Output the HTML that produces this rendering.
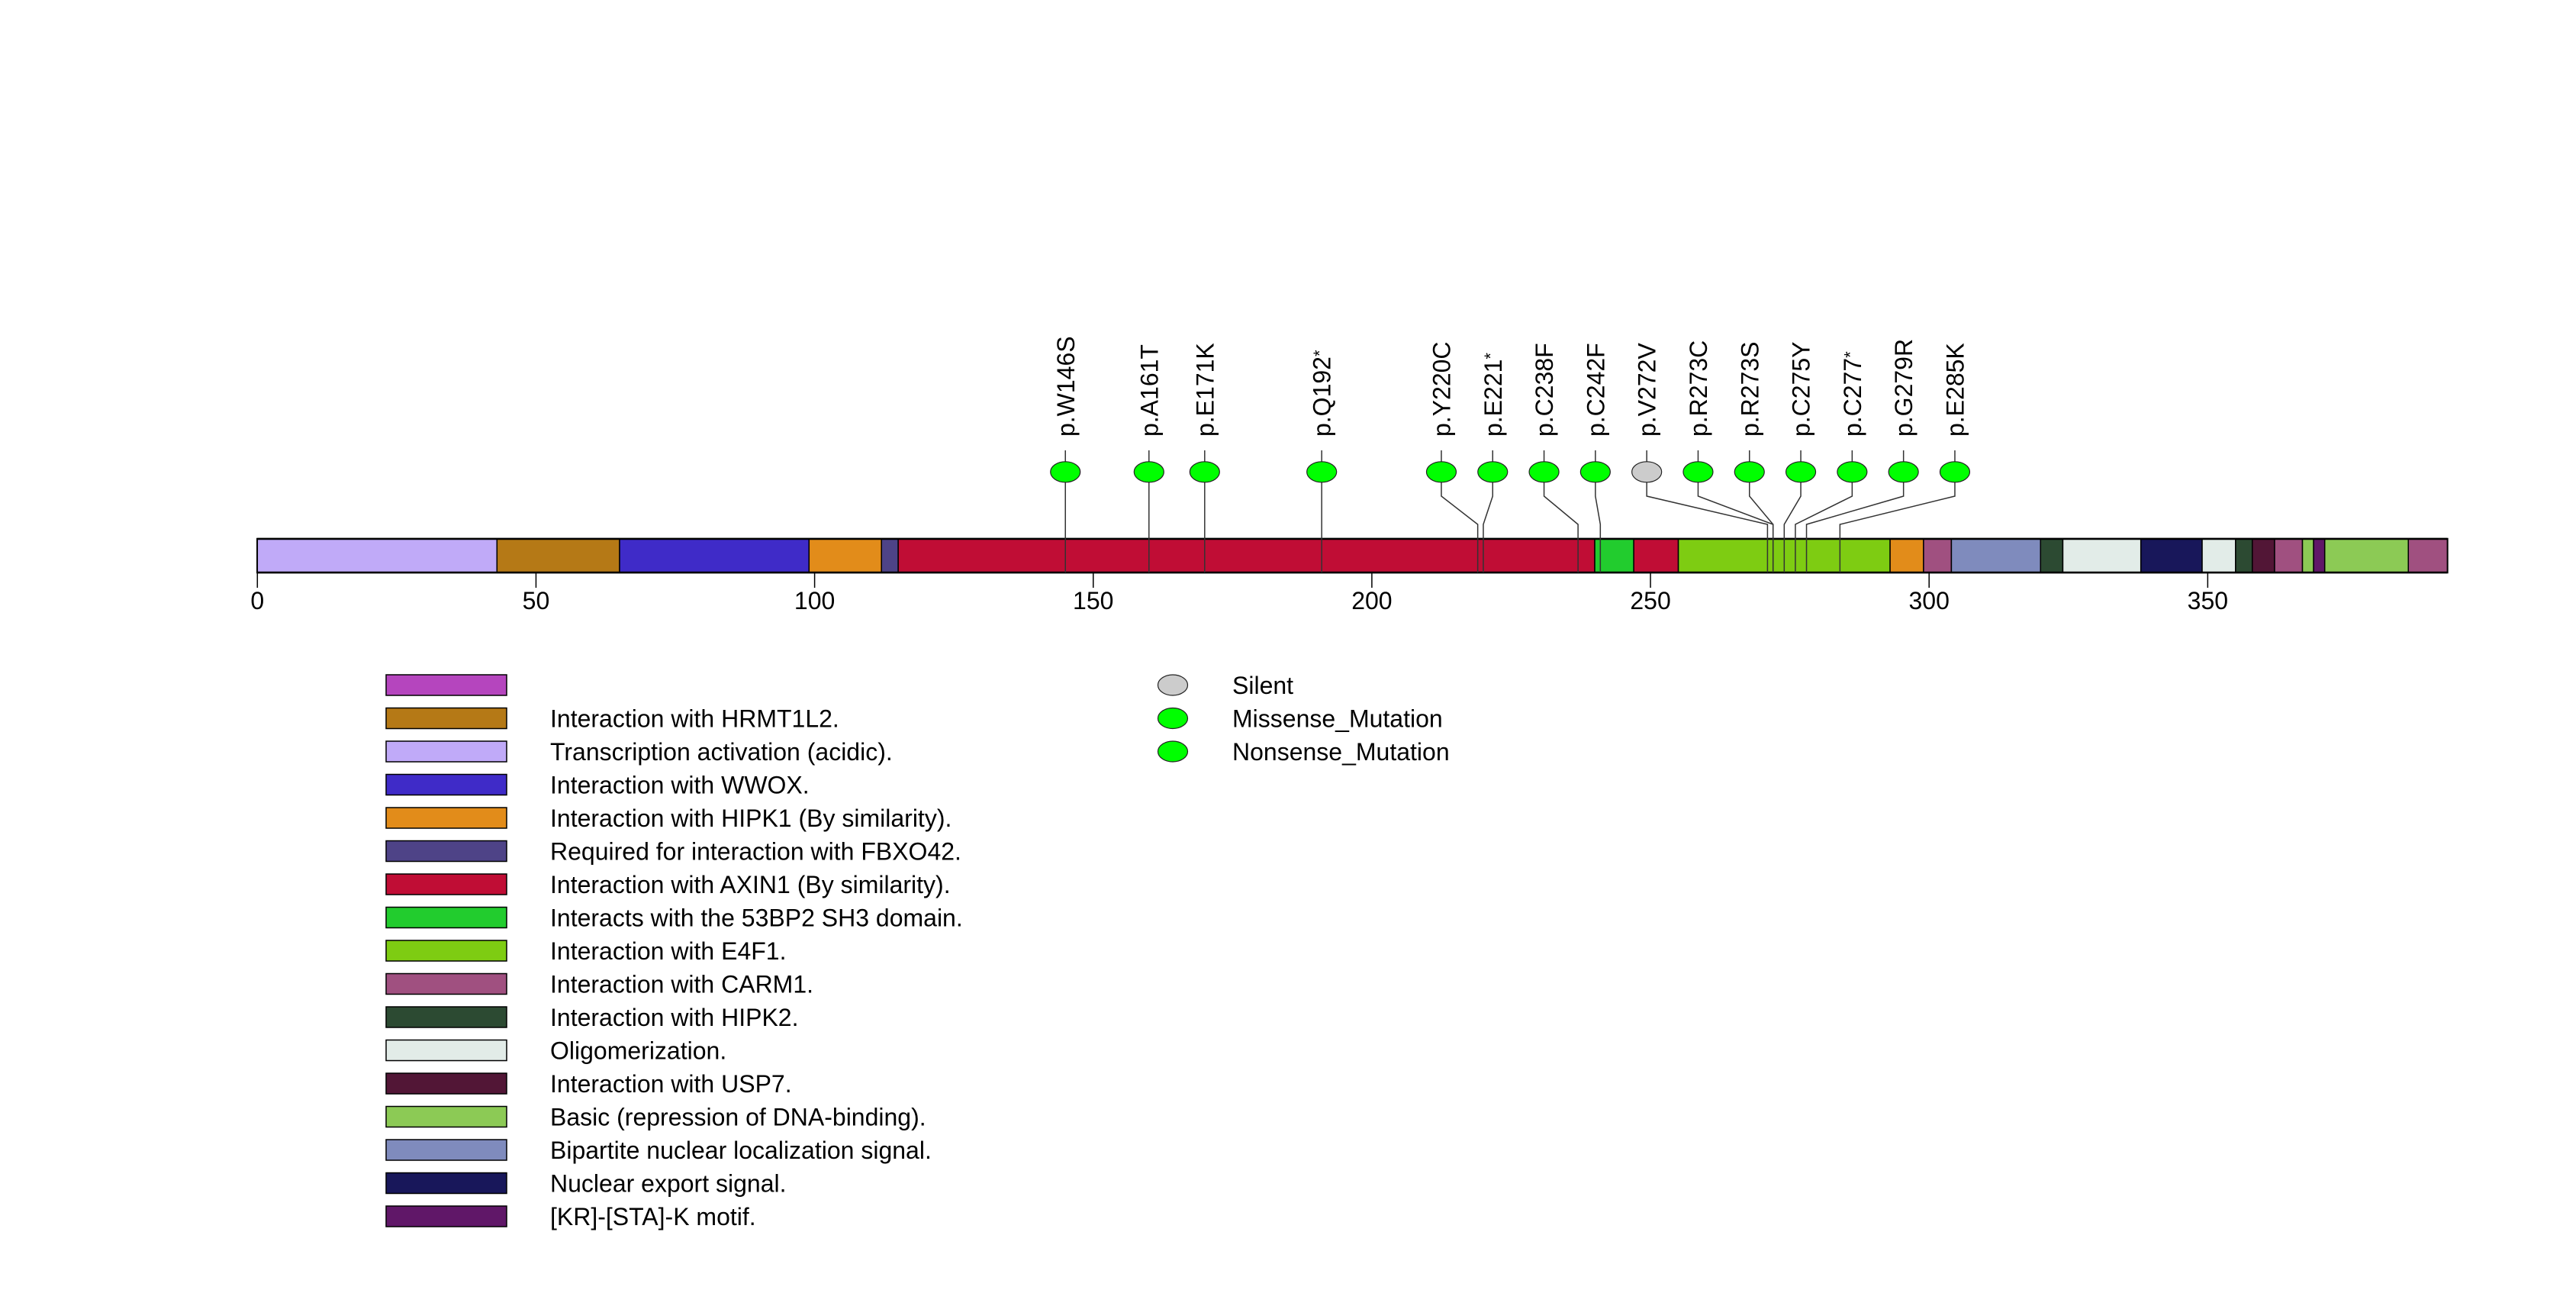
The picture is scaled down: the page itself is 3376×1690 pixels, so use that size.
<!DOCTYPE html>
<html><head><meta charset="utf-8"><style>
html,body{margin:0;padding:0;background:#fff;}
svg{display:block;font-family:"Liberation Sans",Arial,sans-serif;}
</style></head><body>
<svg id="chart" width="3376" height="1690" viewBox="0 0 3376 1690" xmlns="http://www.w3.org/2000/svg">
<g id="bar"></g>
<g id="lines"></g>
<g id="axis"></g>
<g id="lolli"></g>
<g id="legend"></g>
<g id="legend2"></g>
</svg>
<script>
const proteinLength = 393;
const domainStarts = [0, 43, 65, 99, 112, 115, 240, 247, 255, 293, 299, 304, 320, 324, 338, 349, 355, 358, 362, 367, 369, 371, 386];
const domainEnds   = [43, 65, 99, 112, 115, 240, 247, 255, 293, 299, 304, 320, 324, 338, 349, 355, 358, 362, 367, 369, 371, 386, 393];
const domainColors = ["#c0aaf8","#b57916","#3f2bc8","#e28c1a","#4e4387","#c00d35","#22cc2e","#c00d35","#7ecc12","#e28c1a","#a05080","#7f8bbd","#2c4a32","#e2ece8","#18175a","#e2ece8","#2c4a32","#521636","#a05080","#8cca55","#601768","#8cca55","#a05080"];
const mutPositions = [146,161,171,192,220,221,238,242,272,273,273,275,277,279,285];
const mutLabels = ["p.W146S","p.A161T","p.E171K","p.Q192","p.Y220C","p.E221","p.C238F","p.C242F","p.V272V","p.R273C","p.R273S","p.C275Y","p.C277","p.G279R","p.E285K"];
const mutStar = [0,0,0,1,0,1,0,0,0,0,0,0,1,0,0];
const mutTypes = ["Missense","Missense","Missense","Nonsense","Missense","Nonsense","Missense","Missense","Silent","Missense","Missense","Missense","Nonsense","Missense","Missense"];
const tickValues = [0,50,100,150,200,250,300,350];
const legendNames = ["","Interaction with HRMT1L2.","Transcription activation (acidic).","Interaction with WWOX.","Interaction with HIPK1 (By similarity).","Required for interaction with FBXO42.","Interaction with AXIN1 (By similarity).","Interacts with the 53BP2 SH3 domain.","Interaction with E4F1.","Interaction with CARM1.","Interaction with HIPK2.","Oligomerization.","Interaction with USP7.","Basic (repression of DNA-binding).","Bipartite nuclear localization signal.","Nuclear export signal.","[KR]-[STA]-K motif."];
const legendColors = ["#b545be","#b57916","#c0aaf8","#3f2bc8","#e28c1a","#4e4387","#c00d35","#22cc2e","#7ecc12","#a05080","#2c4a32","#e2ece8","#521636","#8cca55","#7f8bbd","#18175a","#601768"];
const typeNames = ["Silent","Missense_Mutation","Nonsense_Mutation"];
const typeColors = {"Silent":"#cccccc","Missense":"#00ff00","Nonsense":"#00ff00"};
const typeLegendColors = ["#cccccc","#00ff00","#00ff00"];

const NS="http://www.w3.org/2000/svg";
const X0=337.3, PX=7.303, BAR_T=706, BAR_B=750;
function xAxis(v){return X0+v*PX;}
function xPos(aa){return X0+(aa-1)*PX;}
function mk(tag,attrs,parent){const e=document.createElementNS(NS,tag);for(const k in attrs)e.setAttribute(k,attrs[k]);parent.appendChild(e);return e;}

const gBar=document.getElementById('bar');
const outline=mk('rect',{x:xAxis(0),y:BAR_T,width:xAxis(proteinLength)-xAxis(0),height:BAR_B-BAR_T,fill:'#fff',stroke:'#000','stroke-width':2.5},gBar);


domainStarts.forEach((s,i)=>{
  const r=mk('rect',{x:xAxis(s),y:BAR_T,width:xAxis(domainEnds[i])-xAxis(s),height:BAR_B-BAR_T,fill:domainColors[i],stroke:'#000','stroke-width':1.5},gBar);
  
  
});
mk('line',{x1:xAxis(0),x2:xAxis(proteinLength),y1:BAR_T,y2:BAR_T,stroke:'#000','stroke-width':2.5},gBar);
mk('line',{x1:xAxis(0),x2:xAxis(proteinLength),y1:BAR_B,y2:BAR_B,stroke:'#000','stroke-width':2.5},gBar);

const gAx=document.getElementById('axis');
tickValues.forEach(t=>{
  const l=mk('line',{x1:xAxis(t),x2:xAxis(t),y1:BAR_B,y2:770,stroke:'#000','stroke-width':1.5},gAx);
  
  
  const tx=mk('text',{x:xAxis(t),y:798,'text-anchor':'middle','font-size':32,fill:'#000'},gAx);
  tx.textContent=t;
  
  
});

const D=67.3;
const raw=mutPositions.map(xPos);
let clusters=raw.map((x,i)=>({idx:[i],c:x}));
let changed=true;
function cpos(cl){const n=cl.idx.length;return cl.idx.map((_,k)=>cl.c+(k-(n-1)/2)*D);}
while(changed){
  changed=false;
  for(let i=0;i<clusters.length-1;i++){
    const a=clusters[i],b=clusters[i+1];
    const pa=cpos(a),pb=cpos(b);
    if(pb[0]-pa[pa.length-1]<D-0.01){
      const idx=a.idx.concat(b.idx);
      const c=idx.reduce((s,j)=>s+raw[j],0)/idx.length;
      clusters.splice(i,2,{idx:idx,c:c});
      changed=true;break;
    }
  }
}
const labelX=[];
clusters.forEach(cl=>{cpos(cl).forEach((p,k)=>{labelX[cl.idx[k]]=p;});});

const gL=document.getElementById('lines'), gM=document.getElementById('lolli');
mutPositions.forEach((p,i)=>{
  const lx=labelX[i], px=raw[i];
  const pl=mk('polyline',{points:`${lx},590 ${lx},650 ${px},687 ${px},${BAR_B}`,fill:'none',stroke:'#333','stroke-width':1.5},gL);
  
  
  const e=mk('ellipse',{cx:lx,cy:618.3,rx:19.5,ry:13.5,fill:typeColors[mutTypes[i]],stroke:'#222','stroke-width':1.2},gM);
  
  
  const t=mk('text',{transform:`translate(${lx},572) rotate(-90)`,dy:'0.36em','font-size':32,fill:'#000'},gM);
  t.textContent=mutLabels[i];
  if(mutStar[i]){const s=mk('tspan',{'font-size':22,dy:'-0.3em'},t);s.textContent='*';}
  
  
});

const gLg=document.getElementById('legend');
legendNames.forEach((n,i)=>{
  const y=884+i*43.5;
  const r=mk('rect',{x:506,y:y,width:158,height:27,fill:legendColors[i],stroke:'#000','stroke-width':1.5},gLg);
  
  
  const t=mk('text',{x:721,y:y+25,'font-size':32,fill:'#000'},gLg);
  t.textContent=n;
  
  
});
const gL2=document.getElementById('legend2');
typeNames.forEach((n,i)=>{
  const y=897.5+i*43.5;
  const e=mk('ellipse',{cx:1537,cy:y,rx:19.5,ry:13.5,fill:typeLegendColors[i],stroke:'#222','stroke-width':1.2},gL2);
  
  
  const t=mk('text',{x:1615,y:y+11.5,'font-size':32,fill:'#000'},gL2);
  t.textContent=n;
  
  
});
</script>
</body></html>
